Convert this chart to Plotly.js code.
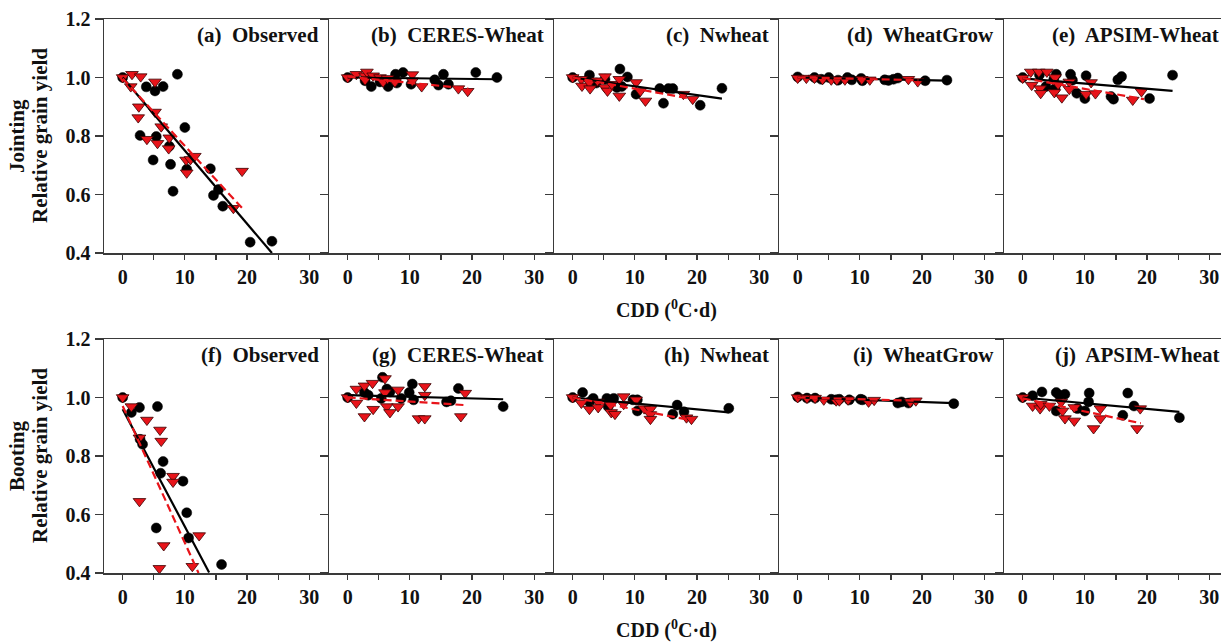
<!DOCTYPE html>
<html>
<head>
<meta charset="utf-8">
<script src="https://cdn.plot.ly/plotly-3.0.1.min.js"></script>
<style>html,body{margin:0;padding:0;background:#fff;}#chart{width:1221px;height:644px;}</style>
</head>
<body>
<div id="chart"></div>
<script>
// ---------------- DATA ----------------
const panelLabels = ["(a)\u00a0 Observed","(b)\u00a0 CERES-Wheat","(c)\u00a0 Nwheat","(d)\u00a0 WheatGrow","(e)\u00a0 APSIM-Wheat",
                     "(f)\u00a0 Observed","(g)\u00a0 CERES-Wheat","(h)\u00a0 Nwheat","(i)\u00a0 WheatGrow","(j)\u00a0 APSIM-Wheat"];
const rowTitles = ["Jointing","Booting"];
const yTitle = "Relative grain yield";
const xTitle = "CDD (<sup>0</sup>C·d)";
const xTickVals = [0,10,20,30];
const xTickText = ["0","10","20","30"];
const xMinorTickVals = [5,15,25];
const yTickVals = [0.4,0.6,0.8,1.0,1.2];
const yTickText = ["0.4","0.6","0.8","1.0","1.2"];

// (a) Jointing - Observed
const aCircX = [0,8.8,3.8,5.2,6.5,10.0,2.8,5.4,7.5,4.9,7.7,8.1,10.3,14.1,15.4,14.6,16.1,20.5,24.0];
const aCircY = [1.0,1.011,0.968,0.954,0.969,0.829,0.802,0.798,0.765,0.718,0.703,0.611,0.686,0.688,0.617,0.597,0.56,0.437,0.44];
const aTriX = [0,1.5,2.9,5.2,1.3,2.6,2.5,5.2,6.2,3.9,5.6,7.5,7.4,10.2,10.9,11.6,10.3,19.2,17.8];
const aTriY = [1.0,1.011,1.003,0.985,0.969,0.90,0.863,0.882,0.832,0.789,0.775,0.794,0.757,0.718,0.72,0.731,0.674,0.68,0.553];
const aLineX = [0,24.0], aLineY = [1.0,0.40];
const aDashX = [0,19.4], aDashY = [0.997,0.549];

// (b) Jointing - CERES-Wheat
const bCircX = [0,2.8,3.8,5.2,6.5,7.7,8.9,7.9,10.2,14.0,14.6,15.4,16.2,20.6,24.0];
const bCircY = [1.0,0.989,0.969,0.985,0.969,1.011,1.017,0.981,0.977,0.992,0.974,1.011,0.977,1.017,1.0];
const bTriX = [0,1.4,2.8,3.1,4.1,5.2,5.7,6.4,7.6,10.4,10.4,11.9,17.8,19.3,2.8];
const bTriY = [1.0,1.011,1.006,1.019,1.006,1.0,0.985,0.997,0.985,1.01,0.989,0.969,0.962,0.953,0.992];
const bLineX = [0,24.0], bLineY = [1.0,0.994];
const bDashX = [0,19.4], bDashY = [1.003,0.962];

// (c) Jointing - Nwheat
const cCircX = [0,2.7,3.8,5.2,7.6,8.8,7.1,7.9,10.2,14.0,14.6,15.4,16.1,20.5,24.0];
const cCircY = [1.0,1.008,0.981,0.994,1.029,1.002,0.966,0.969,0.943,0.962,0.912,0.962,0.962,0.905,0.963];
const cTriX = [0,1.4,1.5,2.7,2.8,4.0,5.2,5.2,5.6,6.3,7.5,7.5,10.2,10.9,11.7,17.8,19.3];
const cTriY = [1.0,0.994,0.971,0.983,0.962,0.989,1.003,0.966,0.954,0.977,0.994,0.937,0.983,0.954,0.92,0.943,0.926];
const cLineX = [0,24.0], cLineY = [1.0,0.928];
const cDashX = [0,19.4], cDashY = [1.0,0.926];

// (d) Jointing - WheatGrow
const dCircX = [0,2.7,3.8,5.0,6.5,8.0,8.7,10.2,10.4,14.0,14.6,15.4,16.1,20.5,24.0];
const dCircY = [1.002,1.0,0.994,1.0,0.991,1.0,0.992,0.997,0.989,0.992,0.99,0.994,0.998,0.989,0.991];
const dTriX = [0,1.4,2.7,4.0,5.4,6.3,7.6,10.3,11.6,17.8,19.3];
const dTriY = [0.998,0.998,0.998,0.994,0.992,0.992,0.992,0.994,0.992,0.994,0.986];
const dLineX = [0,24.0], dLineY = [1.0,0.989];
const dDashX = [0,19.4], dDashY = [1.0,0.991];

// (e) Jointing - APSIM-Wheat
const eCircX = [0,2.7,3.75,5.4,5.2,5.0,7.7,8.0,8.7,10.2,10.0,14.2,14.6,15.3,15.9,20.4,24.1];
const eCircY = [1.0,1.009,0.969,1.011,0.962,0.994,1.011,0.991,0.946,1.006,0.928,0.935,0.926,0.992,1.003,0.928,1.008];
const eTriX = [0,1.3,2.6,3.9,1.45,2.8,2.9,5.2,5.7,5.1,6.3,7.5,7.5,10.2,11.0,11.7,17.7,19.1];
const eTriY = [0.998,1.019,1.019,1.019,0.974,0.962,0.946,1.0,0.977,0.949,0.931,0.985,0.96,0.943,0.983,0.945,0.923,0.952];
const eLineX = [0,24.1], eLineY = [0.997,0.954];
const eDashX = [0,19.5], eDashY = [0.998,0.926];

// (f) Booting - Observed
const fCircX = [0,1.4,2.7,5.6,2.8,3.2,6.5,6.1,9.7,10.3,5.4,10.6,15.9];
const fCircY = [1.0,0.949,0.966,0.969,0.857,0.84,0.781,0.741,0.714,0.606,0.554,0.52,0.429];
const fTriX = [0,1.4,3.9,6.0,6.2,2.7,8.1,8.1,2.7,12.3,6.6,5.9,11.2];
const fTriY = [1.0,0.969,0.923,0.889,0.851,0.862,0.731,0.711,0.645,0.528,0.494,0.416,0.423];
const fLineX = [0,13.9], fLineY = [0.96,0.402];
const fDashX = [0,12.2], fDashY = [0.971,0.40];

// (g) Booting - CERES-Wheat
const gCircX = [0,2.7,3.3,5.6,5.4,6.3,6.8,8.6,9.9,10.4,10.6,15.9,16.6,17.8,25.0];
const gCircY = [1.0,1.017,1.008,1.069,0.997,1.029,1.019,0.997,1.017,1.046,0.992,0.985,0.989,1.031,0.969];
const gTriX = [0,1.4,1.4,2.7,4.0,2.7,4.1,6.0,6.0,6.3,6.8,8.1,8.1,11.4,12.4,12.4,12.4,18.2,18.9];
const gTriY = [1.0,1.029,0.981,1.04,1.049,0.935,0.96,1.065,1.017,0.969,0.949,1.026,0.969,0.928,0.928,1.038,1.008,0.935,1.015];
const gLineX = [0,25.0], gLineY = [1.008,0.994];
const gDashX = [0,18.9], gDashY = [1.0,0.974];

// (h) Booting - Nwheat
const hCircX = [0,1.6,2.7,3.3,5.5,5.7,6.6,9.7,10.4,10.4,16.1,16.8,17.9,25.1];
const hCircY = [1.0,1.017,0.985,0.997,0.997,0.969,0.997,0.992,0.992,0.954,0.943,0.974,0.951,0.963];
const hTriX = [0,1.4,2.7,4.1,4.1,6.1,6.2,6.8,8.2,8.2,10.2,11.5,12.5,12.5,12.5,18.3,19.1];
const hTriY = [1.0,0.981,0.96,0.985,0.966,0.974,0.949,0.943,1.003,0.977,0.992,0.962,0.96,0.942,0.926,0.931,0.926];
const hLineX = [0,25.1], hLineY = [1.0,0.949];
const hDashX = [0,18.9], hDashY = [1.0,0.923];

// (i) Booting - WheatGrow
const iCircX = [0,1.5,2.8,5.4,6.2,6.7,8.3,10.1,10.4,16.1,16.7,17.8,25.1];
const iCircY = [1.002,0.998,0.998,0.994,0.992,0.994,0.992,0.994,0.992,0.981,0.985,0.981,0.979];
const iTriX = [0,1.5,2.8,4.2,6.2,6.7,8.1,11.4,12.3,18.1,19.0];
const iTriY = [1.0,0.998,0.998,0.992,0.989,0.989,0.992,0.985,0.991,0.985,0.989];
const iLineX = [0,25.1], iLineY = [1.0,0.981];
const iDashX = [0,19.0], iDashY = [1.0,0.989];

// (j) Booting - APSIM-Wheat
const jCircX = [0,1.6,3.1,5.4,5.9,6.8,5.4,8.8,10.0,10.6,10.7,16.1,16.9,17.9,25.2];
const jCircY = [1.0,1.006,1.019,1.017,1.008,1.011,0.954,0.962,0.954,0.985,1.015,0.939,1.015,0.971,0.931];
const jTriX = [0,1.6,2.8,2.9,4.3,6.2,6.4,6.8,8.3,8.3,11.4,12.5,12.5,18.4,18.9];
const jTriY = [1.0,0.971,0.962,0.977,0.971,0.985,0.954,0.928,0.966,0.92,0.894,0.962,0.928,0.894,0.962];
const jLineX = [0,25.2], jLineY = [1.0,0.951];
const jDashX = [0,19.0], jDashY = [0.997,0.912];

// ---------------- BUILD ----------------
const panels = [
  [aCircX,aCircY,aTriX,aTriY,aLineX,aLineY,aDashX,aDashY],
  [bCircX,bCircY,bTriX,bTriY,bLineX,bLineY,bDashX,bDashY],
  [cCircX,cCircY,cTriX,cTriY,cLineX,cLineY,cDashX,cDashY],
  [dCircX,dCircY,dTriX,dTriY,dLineX,dLineY,dDashX,dDashY],
  [eCircX,eCircY,eTriX,eTriY,eLineX,eLineY,eDashX,eDashY],
  [fCircX,fCircY,fTriX,fTriY,fLineX,fLineY,fDashX,fDashY],
  [gCircX,gCircY,gTriX,gTriY,gLineX,gLineY,gDashX,gDashY],
  [hCircX,hCircY,hTriX,hTriY,hLineX,hLineY,hDashX,hDashY],
  [iCircX,iCircY,iTriX,iTriY,iLineX,iLineY,iDashX,iDashY],
  [jCircX,jCircY,jTriX,jTriY,jLineX,jLineY,jDashX,jDashY]
];

const W = 1221, H = 644;
const FONT = "Liberation Serif, Times New Roman, serif";
const axisColor = "#3a3a3a";
const redFill = "#e8141a";
const panelLeft = 104, panelW = 225;
const rowTop = [19, 339], rowBot = [253, 573];
const bold = s => "<b>" + s + "</b>";

const traces = [];
const layout = {
  width: W, height: H,
  margin: {l:0, r:0, t:0, b:0},
  paper_bgcolor: "#ffffff", plot_bgcolor: "#ffffff",
  showlegend: false,
  font: {family: FONT, color: "#111", size: 18},
  annotations: []
};

panels.forEach((p, k) => {
  const row = Math.floor(k / 5), col = k % 5;
  const n = k + 1;
  const xa = "x" + (n === 1 ? "" : n), ya = "y" + (n === 1 ? "" : n);
  const xKey = "xaxis" + (n === 1 ? "" : n), yKey = "yaxis" + (n === 1 ? "" : n);
  const x0 = panelLeft + col * panelW;
  const x1 = Math.min(x0 + panelW, W);
  const xRangeMax = -3 + (x1 - x0) / 6.22;

  traces.push({x: p[0], y: p[1], xaxis: xa, yaxis: ya, type: "scatter", mode: "markers", cliponaxis: true,
    marker: {symbol: "circle", size: 10, color: "#000", line: {color: "#000", width: 0.5}}});
  traces.push({x: p[2], y: p[3], xaxis: xa, yaxis: ya, type: "scatter", mode: "markers", cliponaxis: true,
    marker: {symbol: "triangle-down", size: 11, color: redFill, line: {color: "#3a0000", width: 0.8}}});
  traces.push({x: p[4], y: p[5], xaxis: xa, yaxis: ya, type: "scatter", mode: "lines",
    line: {color: "#000", width: 2.2}});
  traces.push({x: p[6], y: p[7], xaxis: xa, yaxis: ya, type: "scatter", mode: "lines",
    line: {color: "#e8141a", width: 2.2, dash: "8px,4px"}});

  layout[xKey] = {
    domain: [x0 / W, x1 / W], anchor: ya, range: [-3, xRangeMax],
    tickmode: "array", tickvals: xTickVals, ticktext: xTickText.map(bold),
    ticks: "outside", ticklen: 5, tickwidth: 1.2, tickcolor: axisColor,
    minor: {tickmode: "array", tickvals: xMinorTickVals, ticks: "outside", ticklen: 5, tickwidth: 1.2, tickcolor: axisColor, showgrid: false},
    showline: true, linecolor: axisColor, linewidth: 1.5, mirror: true,
    showgrid: false, zeroline: false,
    tickfont: {family: FONT, size: 20, color: "#111"}
  };
  layout[yKey] = {
    domain: [1 - rowBot[row] / H, 1 - rowTop[row] / H], anchor: xa, range: [0.4, 1.2],
    tickmode: "array", tickvals: yTickVals, ticktext: yTickText.map(bold),
    ticks: "outside", ticklen: 8, tickwidth: 1.2, tickcolor: axisColor,
    showline: true, linecolor: axisColor, linewidth: 1.5,
    showgrid: false, zeroline: false, showticklabels: col === 0,
    tickfont: {family: FONT, size: 20, color: "#111"}
  };

  layout.annotations.push({
    text: bold(panelLabels[k]), xref: "paper", yref: "paper",
    x: (x0 + panelW - 8) / W, y: 1 - (rowTop[row] + 16) / H,
    xanchor: "right", yanchor: "middle", showarrow: false,
    font: {family: FONT, size: 21, color: "#111"}
  });
});

// row titles (two-line y titles) and x titles
[0, 1].forEach(row => {
  const yMid = 1 - ((rowTop[row] + rowBot[row]) / 2) / H;
  layout.annotations.push({
    text: bold(rowTitles[row]), xref: "paper", yref: "paper",
    x: 17 / W, y: yMid, xanchor: "center", yanchor: "middle", textangle: -90, showarrow: false,
    font: {family: FONT, size: 21, color: "#111"}
  });
  layout.annotations.push({
    text: bold(yTitle), xref: "paper", yref: "paper",
    x: 40 / W, y: yMid, xanchor: "center", yanchor: "middle", textangle: -90, showarrow: false,
    font: {family: FONT, size: 21, color: "#111"}
  });
  layout.annotations.push({
    text: bold(xTitle), xref: "paper", yref: "paper",
    x: 666 / W, y: 1 - (rowBot[row] + 56) / H, xanchor: "center", yanchor: "middle", showarrow: false,
    font: {family: FONT, size: 20, color: "#111"}
  });
});

Plotly.newPlot("chart", traces, layout, {staticPlot: true, displayModeBar: false});
</script>
</body>
</html>
